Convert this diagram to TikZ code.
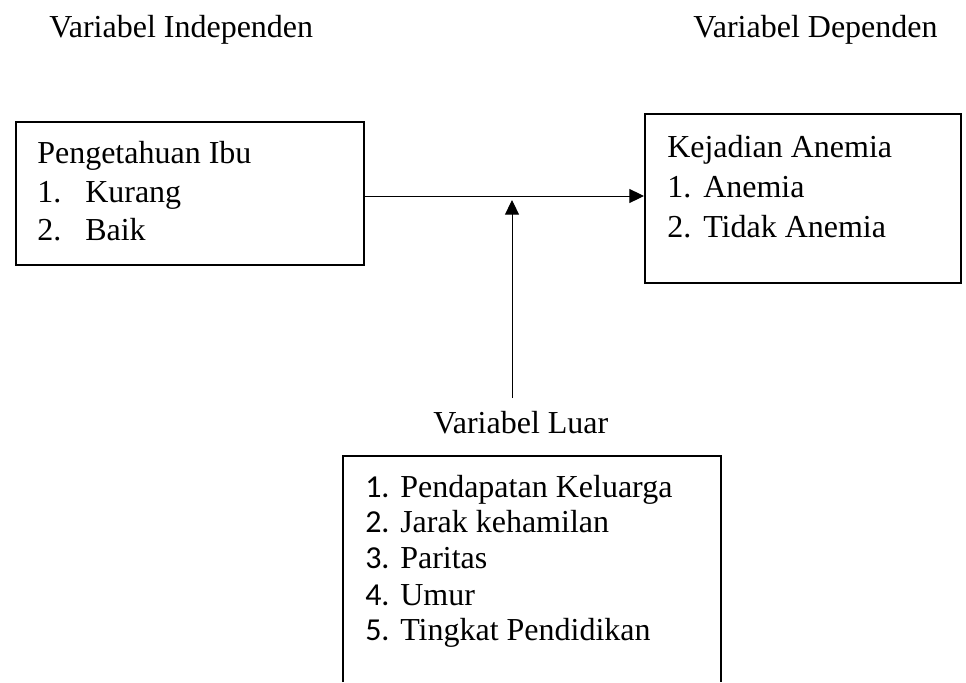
\documentclass[tikz,border=0pt]{standalone}
\usepackage{fontspec}
\setmainfont{Liberation Serif}
\newfontfamily\numfont{Carlito}
\usetikzlibrary{arrows.meta}

\begin{document}
\begin{tikzpicture}[x=0.75pt, y=-0.75pt,
		lbl/.style={anchor=base west, inner sep=0pt, font=\fontsize{24}{29}\selectfont},
		box/.style={draw, line width=1.5pt, anchor=north west, inner sep=0pt},
		arr/.style={line width=0.75pt, -{Triangle[length=11pt, width=10.5pt]}}]
		\useasboundingbox (0,0) rectangle (966,682);

		% headings
		\node [lbl] (hind) at (49,37) {Variabel Independen};
		\node [lbl] (hdep) at (693,37) {Variabel Dependen};

		% independent variable
		\node [box, minimum width=261pt, minimum height=107.25pt] (ibu) at (15,121) {};
		\node [lbl] (ibu0) at (37,163) {Pengetahuan Ibu};
		\node [lbl] (ibu1n) at (37,202) {1.};
		\node [lbl] (ibu1) at (85,202) {Kurang};
		\node [lbl] (ibu2n) at (37,240) {2.};
		\node [lbl] (ibu2) at (85,240) {Baik};

		% dependent variable
		\node [box, minimum width=237pt, minimum height=126.75pt] (kej) at (644,113) {};
		\node [lbl] (kej0) at (667,157) {Kejadian Anemia};
		\node [lbl] (kej1n) at (667,197) {1.};
		\node [lbl] (kej1) at (703,197) {Anemia};
		\node [lbl] (kej2n) at (667,237) {2.};
		\node [lbl] (kej2) at (703,237) {Tidak Anemia};

		% outside variables
		\node [lbl] (luar) at (433,433) {Variabel Luar};
		\draw [line width=1.5pt] (343,682) -- (343,456) -- (721,456) -- (721,682);
		\node [lbl] (luar1n) at (365,497) {\numfont 1.};
		\node [lbl] (luar1) at (400,497) {Pendapatan Keluarga};
		\node [lbl] (luar2n) at (365,532) {\numfont 2.};
		\node [lbl] (luar2) at (400,532) {Jarak kehamilan};
		\node [lbl] (luar3n) at (365,568) {\numfont 3.};
		\node [lbl] (luar3) at (400,568) {Paritas};
		\node [lbl] (luar4n) at (365,605) {\numfont 4.};
		\node [lbl] (luar4) at (400,605) {Umur};
		\node [lbl] (luar5n) at (365,640) {\numfont 5.};
		\node [lbl] (luar5) at (400,640) {Tingkat Pendidikan};

		% connectors
		\coordinate (hjoin) at (512,196);
		\coordinate (vfoot) at (512,398);
		\draw [arr] (ibu.east |- hjoin) -- (kej.west |- hjoin);
		\draw [arr, shorten >=3pt] (vfoot) -- (hjoin);
	\end{tikzpicture}
\end{document}
